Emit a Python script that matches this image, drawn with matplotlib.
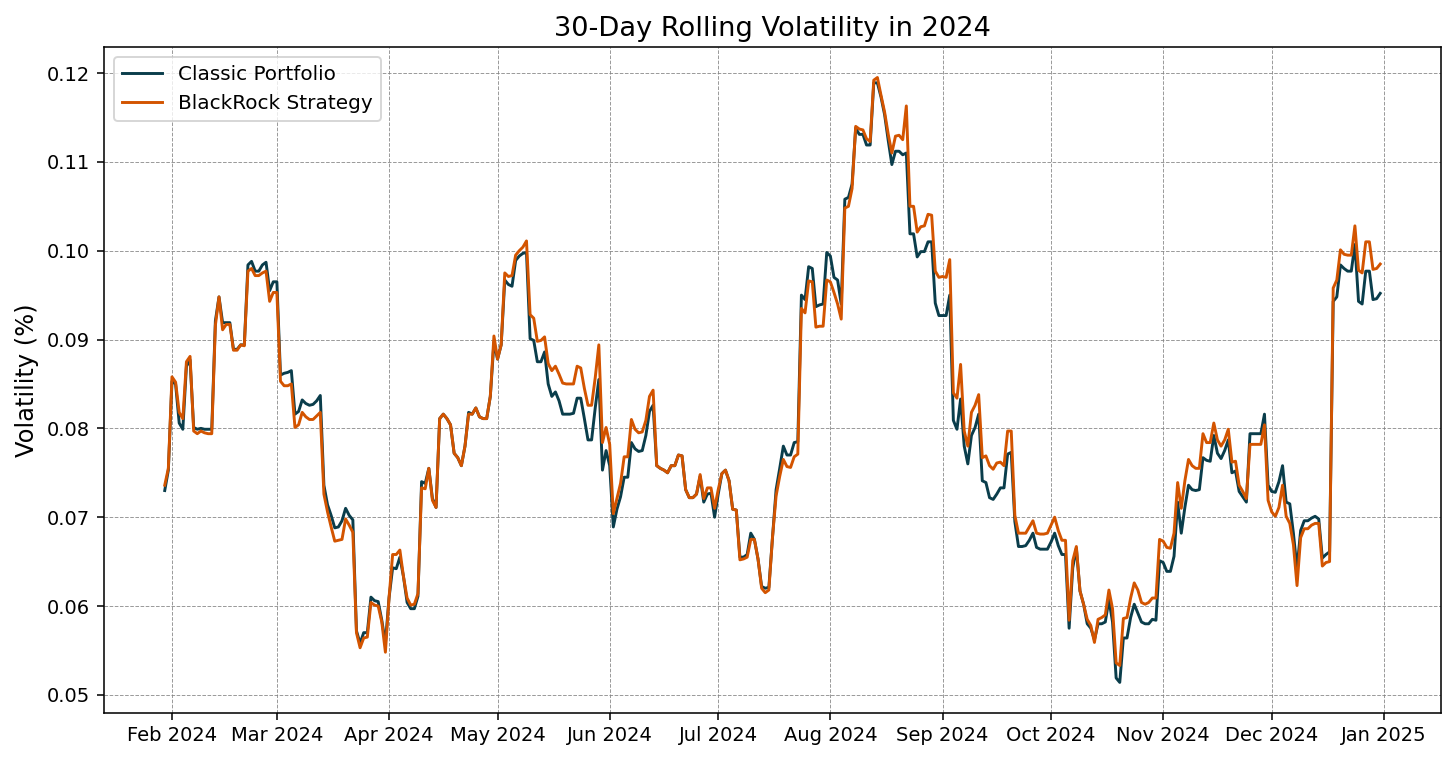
import pandas as pd
import matplotlib
matplotlib.use("Agg")
import matplotlib.pyplot as plt
import matplotlib.dates as mdates

# rolling 30-day volatility, one value per day
classic_jan = [0.0730, 0.0753]
black_jan = [0.0736, 0.0755]

classic_feb = [0.0853, 0.0850, 0.0806, 0.0799, 0.0870, 0.0877, 0.0801, 0.0799, 0.0800, 0.0799,
               0.0799, 0.0799, 0.0921, 0.0948, 0.0919, 0.0919, 0.0919, 0.0889, 0.0889, 0.0894,
               0.0894, 0.0984, 0.0988, 0.0977, 0.0977, 0.0984, 0.0987, 0.0955, 0.0965]
black_feb = [0.0858, 0.0852, 0.0818, 0.0811, 0.0875, 0.0881, 0.0797, 0.0794, 0.0797, 0.0795,
             0.0794, 0.0794, 0.0916, 0.0948, 0.0911, 0.0917, 0.0917, 0.0888, 0.0888, 0.0894,
             0.0893, 0.0977, 0.0980, 0.0972, 0.0972, 0.0975, 0.0977, 0.0943, 0.0953]

classic_mar = [0.0965, 0.0860, 0.0862, 0.0863, 0.0865, 0.0816, 0.0819, 0.0832, 0.0828, 0.0826,
               0.0827, 0.0831, 0.0837, 0.0736, 0.0714, 0.0702, 0.0688, 0.0689, 0.0696, 0.0710,
               0.0702, 0.0697, 0.0572, 0.0558, 0.0570, 0.0570, 0.0610, 0.0606, 0.0605, 0.0584,
               0.0558]
black_mar = [0.0953, 0.0853, 0.0848, 0.0848, 0.0850, 0.0801, 0.0804, 0.0818, 0.0813, 0.0810,
             0.0810, 0.0814, 0.0818, 0.0726, 0.0706, 0.0689, 0.0673, 0.0674, 0.0675, 0.0698,
             0.0691, 0.0683, 0.0570, 0.0553, 0.0564, 0.0565, 0.0604, 0.0601, 0.0600, 0.0582,
             0.0548]

classic_apr = [0.0609, 0.0643, 0.0642, 0.0655, 0.0633, 0.0604, 0.0597, 0.0597, 0.0611, 0.0740,
               0.0738, 0.0755, 0.0721, 0.0711, 0.0811, 0.0816, 0.0811, 0.0804, 0.0772, 0.0767,
               0.0758, 0.0780, 0.0818, 0.0816, 0.0823, 0.0813, 0.0811, 0.0811, 0.0836, 0.0897]
black_apr = [0.0609, 0.0658, 0.0658, 0.0663, 0.0633, 0.0609, 0.0601, 0.0602, 0.0614, 0.0733,
             0.0732, 0.0755, 0.0719, 0.0711, 0.0811, 0.0816, 0.0811, 0.0804, 0.0772, 0.0767,
             0.0758, 0.0780, 0.0816, 0.0816, 0.0823, 0.0813, 0.0811, 0.0811, 0.0836, 0.0904]

classic_may = [0.0878, 0.0894, 0.0967, 0.0962, 0.0960, 0.0989, 0.0994, 0.0997, 0.0998, 0.0901,
               0.0899, 0.0875, 0.0875, 0.0886, 0.0850, 0.0836, 0.0841, 0.0831, 0.0816, 0.0816,
               0.0816, 0.0817, 0.0834, 0.0834, 0.0811, 0.0787, 0.0787, 0.0823, 0.0855, 0.0753,
               0.0775]
black_may = [0.0878, 0.0894, 0.0975, 0.0971, 0.0972, 0.0995, 0.1000, 0.1004, 0.1011, 0.0928,
             0.0924, 0.0898, 0.0899, 0.0903, 0.0873, 0.0865, 0.0870, 0.0861, 0.0851, 0.0850,
             0.0850, 0.0850, 0.0870, 0.0868, 0.0845, 0.0826, 0.0826, 0.0857, 0.0894, 0.0784,
             0.0801]

classic_jun = [0.0758, 0.0689, 0.0709, 0.0723, 0.0745, 0.0745, 0.0784, 0.0777, 0.0774, 0.0775,
               0.0792, 0.0819, 0.0826, 0.0758, 0.0755, 0.0753, 0.0750, 0.0758, 0.0758, 0.0770,
               0.0769, 0.0731, 0.0722, 0.0722, 0.0726, 0.0746, 0.0717, 0.0726, 0.0727, 0.0700]
black_jun = [0.0782, 0.0704, 0.0721, 0.0738, 0.0768, 0.0768, 0.0810, 0.0799, 0.0795, 0.0796,
             0.0809, 0.0836, 0.0843, 0.0758, 0.0755, 0.0753, 0.0750, 0.0758, 0.0758, 0.0770,
             0.0769, 0.0731, 0.0722, 0.0722, 0.0726, 0.0748, 0.0721, 0.0733, 0.0733, 0.0710]

classic_jul = [0.0726, 0.0749, 0.0753, 0.0741, 0.0709, 0.0708, 0.0655, 0.0655, 0.0658, 0.0682,
               0.0675, 0.0653, 0.0622, 0.0620, 0.0621, 0.0677, 0.0731, 0.0755, 0.0780, 0.0770,
               0.0770, 0.0784, 0.0785, 0.0950, 0.0945, 0.0982, 0.0980, 0.0937, 0.0939, 0.0940,
               0.0998]
black_jul = [0.0731, 0.0749, 0.0753, 0.0741, 0.0709, 0.0708, 0.0652, 0.0653, 0.0655, 0.0675,
             0.0675, 0.0653, 0.0620, 0.0615, 0.0618, 0.0677, 0.0724, 0.0746, 0.0765, 0.0757,
             0.0756, 0.0768, 0.0771, 0.0935, 0.0930, 0.0966, 0.0965, 0.0914, 0.0915, 0.0915,
             0.0967]

classic_aug = [0.0994, 0.0970, 0.0967, 0.0940, 0.1058, 0.1060, 0.1075, 0.1138, 0.1131, 0.1131,
               0.1119, 0.1119, 0.1189, 0.1189, 0.1173, 0.1153, 0.1124, 0.1097, 0.1112, 0.1112,
               0.1108, 0.1110, 0.1019, 0.1019, 0.0993, 0.0999, 0.0999, 0.1010, 0.1010, 0.0941,
               0.0927]
black_aug = [0.0965, 0.0953, 0.0940, 0.0923, 0.1048, 0.1050, 0.1070, 0.1140, 0.1137, 0.1136,
             0.1126, 0.1123, 0.1192, 0.1195, 0.1175, 0.1156, 0.1131, 0.1110, 0.1129, 0.1130,
             0.1125, 0.1163, 0.1050, 0.1050, 0.1021, 0.1027, 0.1028, 0.1041, 0.1040, 0.0977,
             0.0970]

classic_sep = [0.0927, 0.0927, 0.0950, 0.0809, 0.0799, 0.0833, 0.0780, 0.0760, 0.0792, 0.0801,
               0.0816, 0.0741, 0.0739, 0.0722, 0.0720, 0.0726, 0.0733, 0.0733, 0.0771, 0.0773,
               0.0695, 0.0667, 0.0667, 0.0668, 0.0674, 0.0682, 0.0666, 0.0664, 0.0664, 0.0664]
black_sep = [0.0971, 0.0970, 0.0990, 0.0840, 0.0834, 0.0872, 0.0797, 0.0780, 0.0818, 0.0826,
             0.0838, 0.0767, 0.0769, 0.0758, 0.0754, 0.0761, 0.0762, 0.0758, 0.0797, 0.0797,
             0.0702, 0.0682, 0.0682, 0.0682, 0.0689, 0.0696, 0.0682, 0.0681, 0.0681, 0.0682]

classic_oct = [0.0672, 0.0682, 0.0668, 0.0658, 0.0658, 0.0575, 0.0643, 0.0665, 0.0617, 0.0602,
               0.0580, 0.0575, 0.0562, 0.0580, 0.0580, 0.0582, 0.0607, 0.0582, 0.0519, 0.0514,
               0.0564, 0.0564, 0.0587, 0.0602, 0.0592, 0.0582, 0.0580, 0.0580, 0.0585, 0.0584,
               0.0651]
black_oct = [0.0691, 0.0700, 0.0685, 0.0674, 0.0674, 0.0584, 0.0651, 0.0667, 0.0617, 0.0602,
             0.0585, 0.0578, 0.0559, 0.0585, 0.0587, 0.0590, 0.0618, 0.0597, 0.0536, 0.0533,
             0.0586, 0.0587, 0.0609, 0.0626, 0.0618, 0.0604, 0.0602, 0.0604, 0.0609, 0.0609,
             0.0675]

classic_nov = [0.0649, 0.0639, 0.0639, 0.0656, 0.0717, 0.0682, 0.0711, 0.0736, 0.0731, 0.0730,
               0.0731, 0.0767, 0.0764, 0.0763, 0.0792, 0.0772, 0.0766, 0.0775, 0.0787, 0.0750,
               0.0752, 0.0729, 0.0723, 0.0717, 0.0794, 0.0794, 0.0794, 0.0794, 0.0816, 0.0736]
black_nov = [0.0673, 0.0666, 0.0665, 0.0682, 0.0739, 0.0710, 0.0741, 0.0765, 0.0758, 0.0755,
             0.0755, 0.0794, 0.0784, 0.0784, 0.0806, 0.0787, 0.0780, 0.0787, 0.0799, 0.0762,
             0.0763, 0.0736, 0.0729, 0.0721, 0.0782, 0.0782, 0.0782, 0.0782, 0.0804, 0.0719]

classic_dec = [0.0729, 0.0728, 0.0740, 0.0758, 0.0717, 0.0715, 0.0682, 0.0642, 0.0685, 0.0696,
               0.0696, 0.0699, 0.0701, 0.0698, 0.0654, 0.0658, 0.0661, 0.0943, 0.0948, 0.0984,
               0.0980, 0.0977, 0.0977, 0.1007, 0.0943, 0.0940, 0.0977, 0.0977, 0.0945, 0.0946,
               0.0952]
black_dec = [0.0706, 0.0701, 0.0711, 0.0736, 0.0701, 0.0693, 0.0669, 0.0623, 0.0677, 0.0687,
             0.0687, 0.0691, 0.0693, 0.0693, 0.0645, 0.0649, 0.0650, 0.0958, 0.0967, 0.1001,
             0.0996, 0.0995, 0.0995, 0.1028, 0.0978, 0.0975, 0.1010, 0.1010, 0.0979, 0.0980,
             0.0985]

month_starts = ["2024-01-30", "2024-02-01", "2024-03-01", "2024-04-01", "2024-05-01", "2024-06-01",
                "2024-07-01", "2024-08-01", "2024-09-01", "2024-10-01", "2024-11-01", "2024-12-01"]
classic_months = [classic_jan, classic_feb, classic_mar, classic_apr, classic_may, classic_jun,
                  classic_jul, classic_aug, classic_sep, classic_oct, classic_nov, classic_dec]
black_months = [black_jan, black_feb, black_mar, black_apr, black_may, black_jun,
                black_jul, black_aug, black_sep, black_oct, black_nov, black_dec]

frames = []
for start, c, b in zip(month_starts, classic_months, black_months):
    idx = pd.date_range(start, periods=len(c), freq="D")
    frames.append(pd.DataFrame({"classic": c, "black": b}, index=idx))
vol = pd.concat(frames)

fig = plt.figure(figsize=(10.4, 5.4286), dpi=140)
ax = fig.add_axes([0.0714, 0.0623, 0.9183, 0.8755])

ax.plot(vol.index, vol["classic"], color="#0a3d4b", lw=1.5, label="Classic Portfolio")
ax.plot(vol.index, vol["black"], color="#d35400", lw=1.5, label="BlackRock Strategy")

ax.set_title("30-Day Rolling Volatility in 2024", fontsize=14)
ax.set_ylabel("Volatility (%)", fontsize=12.4)
ax.xaxis.set_major_locator(mdates.MonthLocator())
ax.xaxis.set_major_formatter(mdates.DateFormatter("%b %Y"))
ax.grid(True, linestyle="--", linewidth=0.5, color="gray", alpha=0.8)
ax.legend(loc="upper left", fontsize=10.3)

fig.savefig("out.png", dpi=140)
